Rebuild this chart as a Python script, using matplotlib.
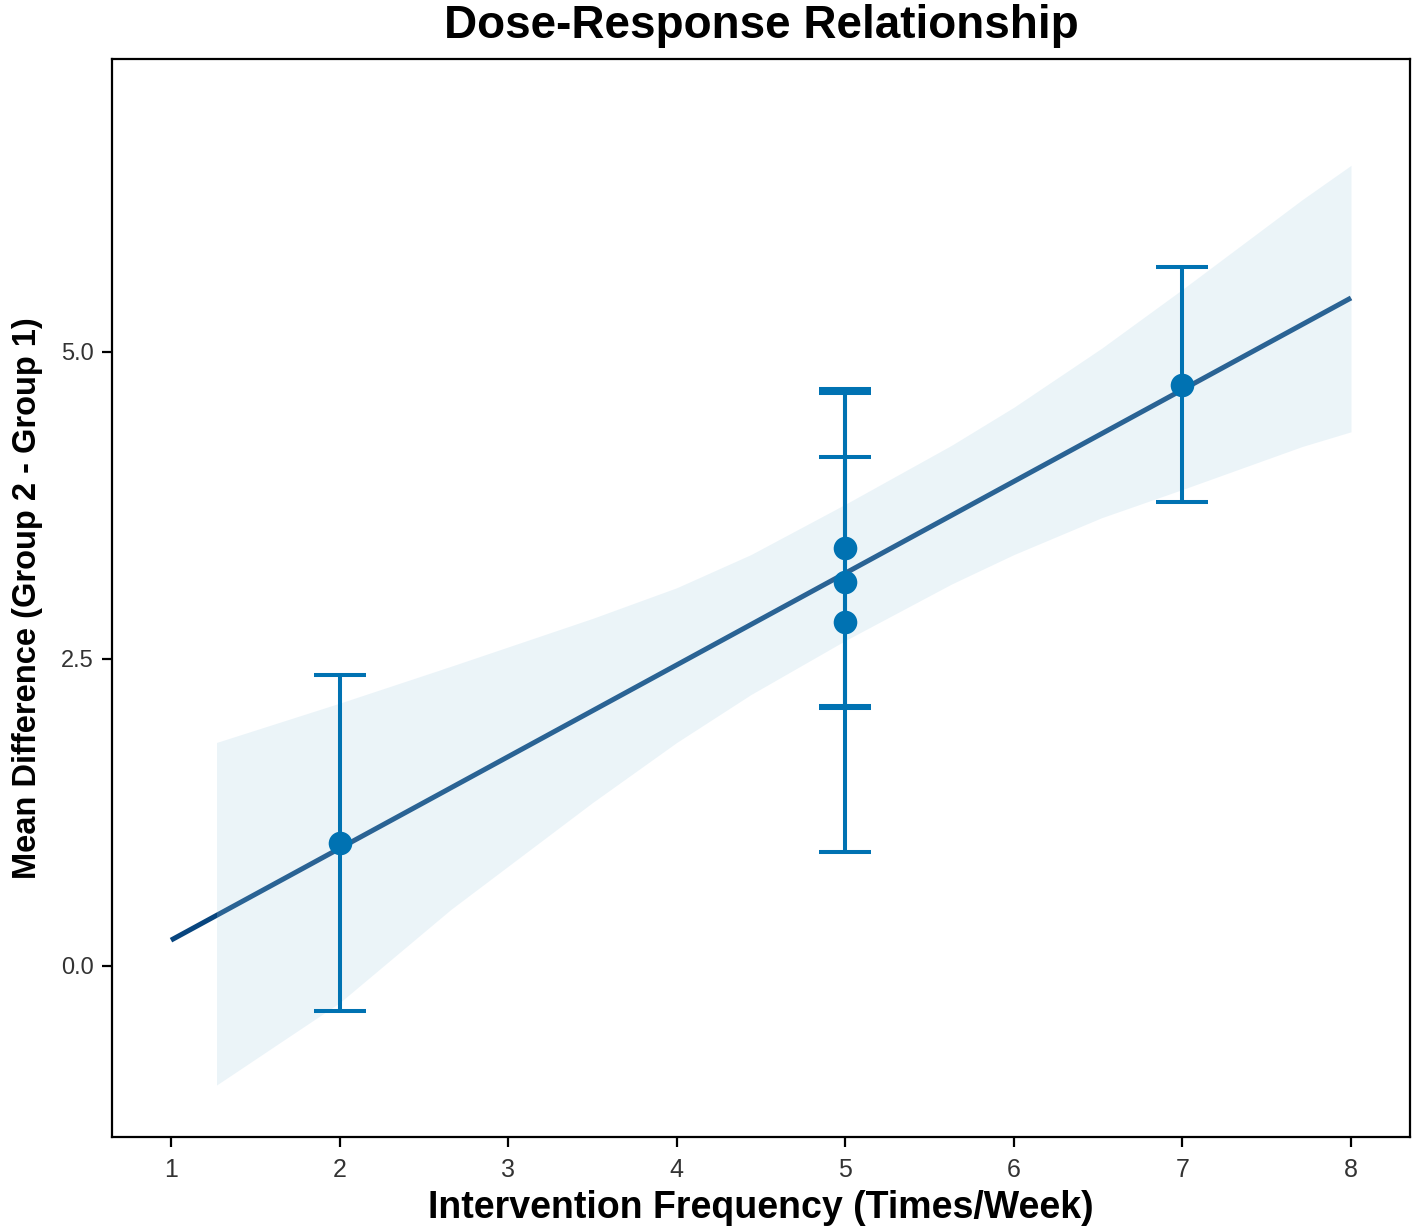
import matplotlib
matplotlib.use("Agg")
import matplotlib.pyplot as plt
import numpy as np

plt.rcParams['font.family'] = ['Liberation Sans', 'DejaVu Sans']

# ---- data ----
freq = [2, 5, 5, 5, 7]
mean_diff = [1.00, 3.40, 3.13, 2.80, 4.73]
ci_low = [-0.37, 2.10, 2.12, 0.93, 3.78]
ci_high = [2.37, 4.70, 4.145, 4.67, 5.69]

fit_x = [1, 8]
fit_y = [0.21, 5.44]

band_x = [1.27, 2.0, 2.66, 3.5, 4.0, 4.44, 5.0, 5.63, 6.0, 6.52, 7.0, 7.71, 8.0]
band_upper = [1.82, 2.14, 2.44, 2.83, 3.08, 3.35, 3.76, 4.24, 4.55, 5.03, 5.51, 6.24, 6.52]
band_lower = [-0.97, -0.30, 0.46, 1.33, 1.82, 2.21, 2.65, 3.11, 3.35, 3.65, 3.88, 4.23, 4.35]

x_ticks = [1, 2, 3, 4, 5, 6, 7, 8]
y_ticks = [0.0, 2.5, 5.0]
y_tick_labels = ["0.0", "2.5", "5.0"]

# ---- figure ----
fig = plt.figure(figsize=(14.17, 12.29), dpi=100)
ax = fig.add_axes([112/1417, 1 - 1137/1229, (1410-112)/1417, (1137-59)/1229])

ax.plot(fit_x, fit_y, color="#08457E", lw=3.6, zorder=2, solid_capstyle='butt')
ax.fill_between(band_x, band_lower, band_upper, color="#A6CEE3", alpha=0.22,
                linewidth=0, zorder=3)

yerr = [np.array(mean_diff) - np.array(ci_low), np.array(ci_high) - np.array(mean_diff)]
ax.errorbar(freq, mean_diff, yerr=yerr, fmt='none', ecolor="#0072B2",
            elinewidth=2.9, capsize=19, capthick=2.9, zorder=4)
ax.plot(freq, mean_diff, 'o', color="#0072B2", markersize=17, zorder=5,
        markeredgewidth=0)

ax.set_xlim(0.65, 8.35)
ax.set_ylim(-1.393, 7.386)
ax.set_xticks(x_ticks)
ax.set_yticks(y_ticks)
ax.set_yticklabels(y_tick_labels)

for s in ax.spines.values():
    s.set_linewidth(1.6)
    s.set_color("black")
ax.tick_params(axis='both', direction='out', length=7, width=1.6,
               labelcolor="#333333", color="black", pad=6)
ax.tick_params(axis='x', labelsize=18, pad=8)
ax.tick_params(axis='y', labelsize=17)

ax.set_title("Dose-Response Relationship", fontsize=33, fontweight='bold', pad=15)
ax.set_xlabel("Intervention Frequency (Times/Week)", fontsize=27, fontweight='bold', labelpad=6)
ax.set_ylabel("Mean Difference (Group 2 - Group 1)", fontsize=23.5, fontweight='bold', labelpad=13)

fig.savefig("out.png", dpi=100)
